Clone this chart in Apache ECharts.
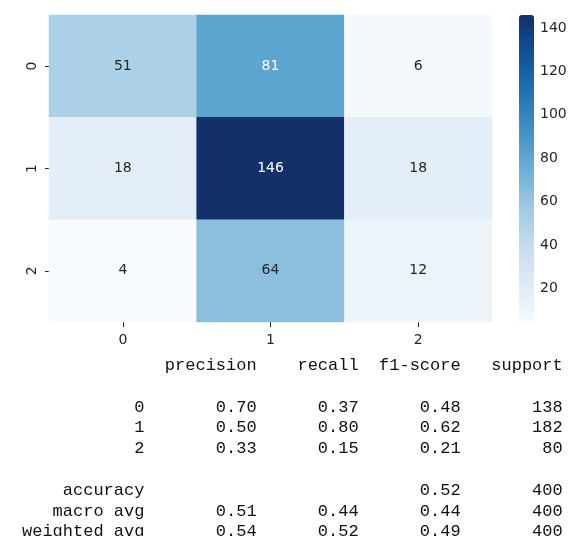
<!DOCTYPE html>
<html>
<head>
<meta charset="utf-8">
<script src="https://cdn.jsdelivr.net/npm/echarts@6/dist/echarts.min.js"></script>
<style>
  html, body { margin: 0; padding: 0; background: #fff; }
  #chart { width: 584px; height: 536px; }
</style>
</head>
<body>
<div id="chart"></div>
<script>
// confusion matrix (rows = true label, cols = predicted)
const classes = ["0", "1", "2"];
const matrix = [
  [51, 81, 6],
  [18, 146, 18],
  [4, 64, 12]
];
const colorbarTicks = [20, 40, 60, 80, 100, 120, 140];

// classification report
const reportLabels = ["0", "1", "2"];
const precision = [0.70, 0.50, 0.33];
const recall = [0.37, 0.80, 0.15];
const f1 = [0.48, 0.62, 0.21];
const support = [138, 182, 80];
const accuracy = [0.52, 400];
const macroAvg = [0.51, 0.44, 0.44, 400];
const weightedAvg = [0.54, 0.52, 0.49, 400];

const blues = ["#f7fbff", "#deebf7", "#c6dbef", "#9ecae1", "#6baed6",
  "#4292c6", "#2171b5", "#0f5298", "#14306a"];

let flat = matrix.flat();
let vmin = Math.min(...flat), vmax = Math.max(...flat);

let cells = [];
for (let r = 0; r < matrix.length; r++) {
  for (let c = 0; c < matrix[r].length; c++) {
    let v = matrix[r][c];
    cells.push({
      value: [c, r, v],
      label: { color: v > 70 ? "#ffffff" : "#262626" }
    });
  }
}

// build report text like sklearn's formatting
function row(label, cols) {
  return label.padStart(12) + " " + cols.map((c) => String(c).padStart(10)).join("");
}
let lines = [];
lines.push(row("", ["precision", "recall", "f1-score", "support"]));
lines.push("");
for (let i = 0; i < reportLabels.length; i++) {
  lines.push(row(reportLabels[i], [precision[i].toFixed(2), recall[i].toFixed(2), f1[i].toFixed(2), support[i]]));
}
lines.push("");
lines.push(row("accuracy", ["", "", accuracy[0].toFixed(2), accuracy[1]]));
lines.push(row("macro avg", [macroAvg[0].toFixed(2), macroAvg[1].toFixed(2), macroAvg[2].toFixed(2), macroAvg[3]]));
lines.push(row("weighted avg", [weightedAvg[0].toFixed(2), weightedAvg[1].toFixed(2), weightedAvg[2].toFixed(2), weightedAvg[3]]));

const tickFont = { fontFamily: "DejaVu Sans", fontSize: 14, color: "#262626" };

let chart = echarts.init(document.getElementById("chart"), null, { renderer: "canvas" });

let option = {
  animation: false,
  backgroundColor: "#ffffff",
  grid: [
    { left: 49, top: 15, width: 443, height: 307 },
    { left: 519, top: 15, width: 15, height: 308 }
  ],
  xAxis: [
    {
      type: "category",
      data: classes,
      gridIndex: 0,
      position: "bottom",
      axisLine: { show: false },
      axisTick: { show: true, alignWithLabel: true, length: 5, lineStyle: { color: "#262626" } },
      axisLabel: Object.assign({ margin: 11 }, tickFont),
      splitLine: { show: false }
    },
    { type: "value", gridIndex: 1, show: false }
  ],
  yAxis: [
    {
      type: "category",
      data: classes,
      inverse: true,
      gridIndex: 0,
      axisLine: { show: false },
      axisTick: { show: true, alignWithLabel: true, length: 4, lineStyle: { color: "#262626" } },
      axisLabel: Object.assign({ margin: 10, rotate: 90 }, tickFont),
      splitLine: { show: false }
    },
    {
      type: "value",
      gridIndex: 1,
      position: "right",
      min: vmin,
      max: vmax,
      axisLine: { show: false },
      axisTick: { show: true, length: 5, customValues: colorbarTicks, lineStyle: { color: "#262626" } },
      axisLabel: Object.assign({ margin: 6, customValues: colorbarTicks }, tickFont),
      splitLine: { show: false }
    }
  ],
  visualMap: {
    type: "continuous",
    seriesIndex: 0,
    min: vmin,
    max: vmax,
    calculable: false,
    orient: "vertical",
    left: 519,
    top: 15,
    padding: 0,
    itemWidth: 15,
    itemHeight: 308,
    text: null,
    inRange: { color: blues }
  },
  series: [
    {
      type: "heatmap",
      xAxisIndex: 0,
      yAxisIndex: 0,
      data: cells,
      label: {
        show: true,
        fontFamily: "DejaVu Sans",
        fontSize: 14,
        formatter: (p) => p.value[2]
      },
      itemStyle: { borderWidth: 0 },
      emphasis: { disabled: true }
    }
  ],
  graphic: [
    {
      type: "text",
      left: 22,
      top: 355,
      style: {
        text: lines.join("\n"),
        font: "17px 'Liberation Mono', monospace",
        lineHeight: 20.8,
        fill: "#111111",
        textVerticalAlign: "top"
      }
    }
  ]
};

chart.setOption(option);
window.addEventListener("resize", chart.resize);
</script>
</body>
</html>
